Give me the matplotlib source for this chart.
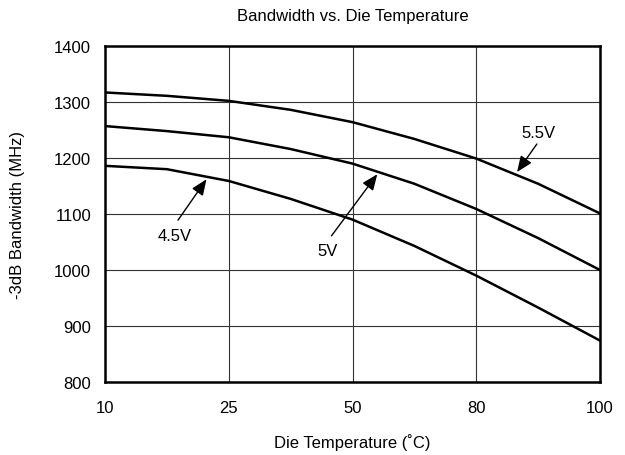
import numpy as np
import matplotlib.pyplot as plt

plt.rcParams['font.family'] = ['Liberation Sans', 'DejaVu Sans']

# temperature ticks are evenly spaced on the chart (non-linear axis)
temp_labels = ['10', '25', '50', '80', '100']
pos = [0, 0.5, 1, 1.5, 2, 2.5, 3, 3.5, 4]

bw_55 = [1317, 1311, 1302, 1286, 1264, 1234, 1199, 1154, 1101]
bw_50 = [1257, 1248, 1237, 1216, 1190, 1154, 1109, 1057, 1000]
bw_45 = [1186, 1180, 1159, 1127, 1090, 1043, 990, 933, 874]

# label, text position, arrow tail, arrow head (data coords)
notes = [
    ('5.5V', (3.50, 1246), (3.49, 1225), (3.33, 1175)),
    ('5V', (1.80, 1034), (1.83, 1061), (2.20, 1171)),
    ('4.5V', (0.56, 1062), (0.59, 1089), (0.82, 1162)),
]

fig, ax = plt.subplots(figsize=(6.25, 4.56), dpi=100)
fig.subplots_adjust(left=0.168, right=0.96, top=0.897, bottom=0.16)

for s in (bw_55, bw_50, bw_45):
    ax.plot(pos, s, color='black', lw=1.8, zorder=3)

for lab, txt, tail, head in notes:
    ax.text(txt[0], txt[1], lab, ha='center', va='center', fontsize=12)
    ax.annotate('', xy=head, xytext=tail,
                arrowprops=dict(arrowstyle='-|>,head_length=0.6,head_width=0.25',
                                color='black', lw=1,
                                mutation_scale=16, shrinkA=0, shrinkB=0))

ax.set_xlim(0, 4)
ax.set_ylim(800, 1400)
ax.set_xticks(range(5))
ax.set_xticklabels(temp_labels)
ax.set_yticks(range(800, 1401, 100))
ax.tick_params(length=0, labelsize=12)
ax.tick_params(axis='x', pad=13)
ax.tick_params(axis='y', pad=10)
ax.grid(True, color='#333333', lw=0.8)
for sp in ax.spines.values():
    sp.set_linewidth(1.8)

ax.set_title('Bandwidth vs. Die Temperature', fontsize=12, pad=19)
ax.set_xlabel('Die Temperature (˚C)', fontsize=12, labelpad=13)
ax.set_ylabel('-3dB Bandwidth (MHz)', fontsize=12, labelpad=21)

plt.savefig('out.png')
